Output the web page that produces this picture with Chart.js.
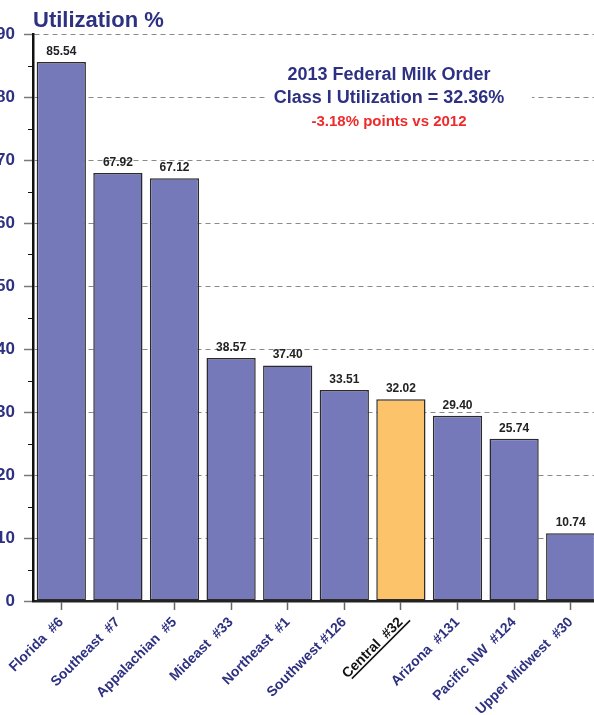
<!DOCTYPE html>
<html>
<head>
<meta charset="utf-8">
<script src="https://cdn.jsdelivr.net/npm/chart.js@4"></script>
<style>
  html, body { margin: 0; padding: 0; background: #fff; overflow: hidden; }
  #wrap { position: absolute; left: 0; top: 0; width: 599px; height: 715px; }
</style>
</head>
<body>
<div id="wrap"><canvas id="miGrafico"></canvas></div>
<script>
const ORDERS = ['Florida  #6', 'Southeast  #7', 'Appalachian  #5', 'Mideast  #33', 'Northeast  #1',
  'Southwest #126', 'Central  #32', 'Arizona  #131', 'Pacific NW  #124', 'Upper Midwest  #30'];
const UTILIZATION = [85.54, 67.92, 67.12, 38.57, 37.40, 33.51, 32.02, 29.40, 25.74, 10.74];
const Y_TICKS = [0, 10, 20, 30, 40, 50, 60, 70, 80, 90];
const HIGHLIGHT = 'Central  #32';

const FONT = "'Liberation Sans', Arial, sans-serif";
const NAVY = '#2e3182';

// tick marks at the 5s, plus the titles and value labels
const extras = {
  id: 'extras',
  beforeDatasetsDraw(chart) {
    const ctx = chart.ctx;
    // white box behind the note so the 80 gridline breaks there
    ctx.save();
    ctx.fillStyle = '#fff';
    ctx.fillRect(268, 60, 264, 72);
    ctx.restore();
  },
  afterDraw(chart) {
    const ctx = chart.ctx;
    const y = chart.scales.y;
    const x = chart.scales.x;
    ctx.save();
    // minor ticks
    ctx.strokeStyle = '#111';
    ctx.lineWidth = 1;
    for (let v = 5; v < 90; v += 10) {
      const py = Math.round(y.getPixelForValue(v)) + 0.5;
      ctx.beginPath();
      ctx.moveTo(y.right - 5, py);
      ctx.lineTo(y.right, py);
      ctx.stroke();
    }
    // value labels
    ctx.fillStyle = '#222';
    ctx.font = 'bold 12px ' + FONT;
    ctx.textAlign = 'center';
    ctx.textBaseline = 'alphabetic';
    const meta = chart.getDatasetMeta(0);
    meta.data.forEach((bar, i) => {
      ctx.fillText(UTILIZATION[i].toFixed(2), bar.x, bar.y - 7);
    });
    // title
    ctx.textAlign = 'left';
    ctx.fillStyle = NAVY;
    ctx.font = 'bold 22px ' + FONT;
    ctx.fillText('Utilization %', 33, 27);
    // note
    ctx.textAlign = 'center';
    ctx.font = 'bold 18px ' + FONT;
    ctx.fillText('2013 Federal Milk Order', 389, 80);
    ctx.fillText('Class I Utilization = 32.36%', 389, 103);
    ctx.fillStyle = '#ee2a2a';
    ctx.font = 'bold 15px ' + FONT;
    ctx.fillText('-3.18% points vs 2012', 389, 126);
    // underline under the highlighted category label
    const idx = ORDERS.indexOf(HIGHLIGHT);
    const px = x.getPixelForTick(idx);
    const py = x.top + 9 + 4;
    ctx.font = 'bold 14px ' + FONT;
    const w = ctx.measureText(HIGHLIGHT).width;
    ctx.translate(px, py);
    ctx.rotate(-Math.PI / 4);
    ctx.strokeStyle = '#111';
    ctx.lineWidth = 1.5;
    ctx.beginPath();
    ctx.moveTo(-w - 1, 11);
    ctx.lineTo(2, 11);
    ctx.stroke();
    ctx.restore();
  }
};

new Chart(document.getElementById('miGrafico'), {
  type: 'bar',
  data: {
    labels: ORDERS,
    datasets: [{
      data: UTILIZATION,
      backgroundColor: ORDERS.map(c => c === HIGHLIGHT ? '#fdc36b' : '#7679b9'),
      borderColor: '#2a2a2a',
      borderWidth: 1.5,
      borderSkipped: false,
      barPercentage: 0.87,
      categoryPercentage: 1
    }]
  },
  options: {
    responsive: true,
    maintainAspectRatio: false,
    animation: false,
    layout: { padding: { top: 34, left: 0, right: 0, bottom: 0 } },
    plugins: {
      legend: { display: false },
      title: { display: false },
      tooltip: { enabled: false }
    },
    scales: {
      x: {
        afterFit: s => { s.height = 114; },
        grid: {
          offset: false,
          drawOnChartArea: false,
          drawTicks: true,
          tickLength: 9,
          tickColor: '#666',
          tickWidth: 1.5
        },
        border: { color: '#222', width: 2.5 },
        ticks: {
          autoSkip: false,
          minRotation: 45,
          maxRotation: 45,
          padding: 4,
          color: c => ORDERS[c.index] === HIGHLIGHT ? '#111' : NAVY,
          font: { family: FONT, size: 14, weight: 'bold' }
        }
      },
      y: {
        min: 0,
        max: 90,
        afterFit: s => { s.width = 33; },
        afterBuildTicks: s => { s.ticks = Y_TICKS.map(v => ({ value: v })); },
        grid: {
          color: c => (c.tick && c.tick.value > 0) ? '#8a8a8a' : 'rgba(0,0,0,0)',
          lineWidth: 1,
          tickLength: 9,
          tickColor: '#7a7a7a',
          tickWidth: 1.5
        },
        border: { color: '#111', width: 2.5, dash: [5, 4] },
        ticks: {
          padding: 9,
          color: NAVY,
          font: { family: FONT, size: 17, weight: 'bold' }
        }
      }
    }
  },
  plugins: [extras]
});
</script>
</body>
</html>
